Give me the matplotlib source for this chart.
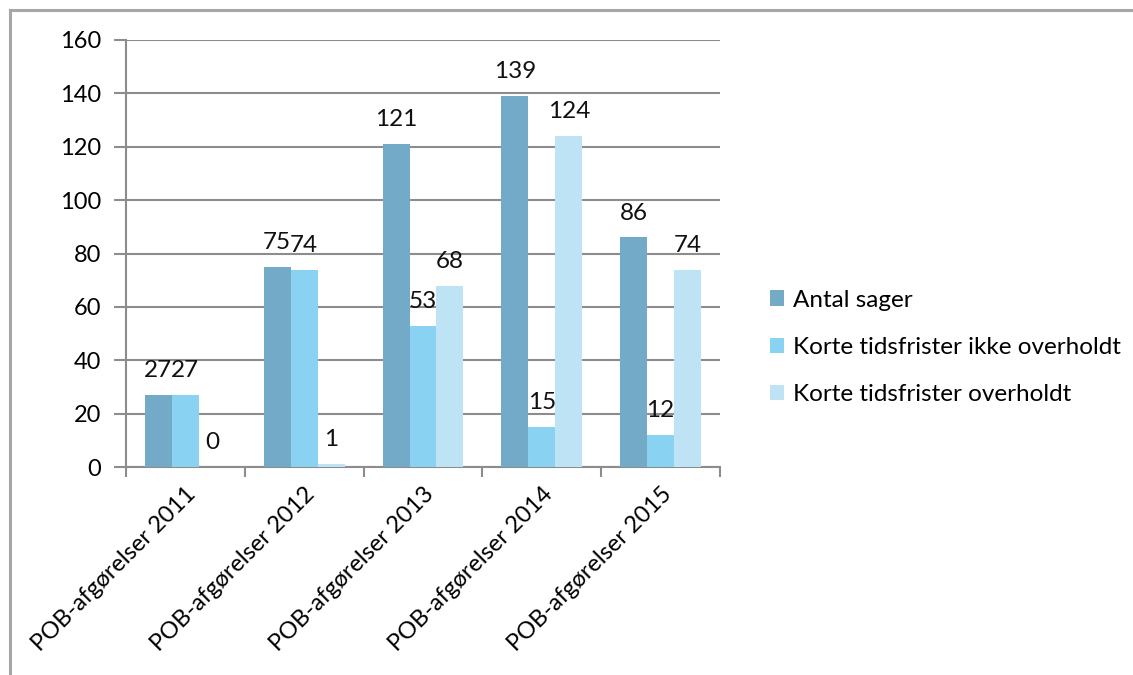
import numpy as np
import matplotlib
matplotlib.use('Agg')
import matplotlib.pyplot as plt
from matplotlib.lines import Line2D

categories = ['POB-afgørelser 2011', 'POB-afgørelser 2012', 'POB-afgørelser 2013',
              'POB-afgørelser 2014', 'POB-afgørelser 2015']
series_names = ['Antal sager', 'Korte tidsfrister ikke overholdt', 'Korte tidsfrister overholdt']
antal_sager = [27, 75, 121, 139, 86]
ikke_overholdt = [27, 74, 53, 15, 12]
overholdt = [0, 1, 68, 124, 74]
colors = ['#72aac7', '#8ad2f1', '#bee3f5']

plt.rcParams['font.family'] = ['Lato', 'DejaVu Sans']

W, H = 1133, 675
fig = plt.figure(figsize=(W / 100, H / 100), dpi=100)
ax = fig.add_axes([126 / W, 1 - 467 / H, (720 - 126) / W, (467 - 40) / H])

x = np.arange(len(categories))
width = 0.227
all_series = [antal_sager, ikke_overholdt, overholdt]
for i, (vals, name, col) in enumerate(zip(all_series, series_names, colors)):
    pos = x + (i - 1) * width
    ax.bar(pos, vals, width, color=col, label=name, zorder=3)
    for p, v in zip(pos, vals):
        ax.annotate(str(v), (p, v), xytext=(0, 10), textcoords='offset points',
                    ha='center', va='bottom', fontsize=17.5, color='#111111')

ax.set_xlim(-0.5, len(categories) - 0.5)
ax.set_ylim(0, 160)
ax.set_yticks(range(0, 161, 20))
ax.yaxis.grid(True, color='#8c8c8c', linewidth=1.5, zorder=0)
ax.set_axisbelow(True)

ax.set_xticks(np.arange(len(categories) + 1) - 0.5)
ax.set_xticklabels([])
ax.set_xticks(x, minor=True)
ax.set_xticklabels(categories, minor=True, rotation=45, ha='right',
                   rotation_mode='anchor', fontsize=17)
ax.tick_params(axis='x', which='major', length=7, width=1.5, color='#8c8c8c')
ax.tick_params(axis='x', which='minor', length=0, pad=12)
ax.tick_params(axis='y', length=9, width=1.5, color='#8c8c8c', labelsize=17, pad=9)

for side in ['top', 'right']:
    ax.spines[side].set_visible(False)
for side in ['left', 'bottom']:
    ax.spines[side].set_color('#8c8c8c')
    ax.spines[side].set_linewidth(1.5)

fig.legend(loc='upper left', bbox_to_anchor=(760 / W, 1 - 280 / H), frameon=False,
           fontsize=17.5, handlelength=0.6, handleheight=0.6, handletextpad=0.35,
           labelspacing=1.08, borderaxespad=0)

# outer chart frame, cut off at right and bottom
fig.add_artist(Line2D([10 / W, 10 / W], [0, 1 - 10 / H], color='#a6a6a6', linewidth=2.2))
fig.add_artist(Line2D([10 / W, 1], [1 - 10 / H, 1 - 10 / H], color='#a6a6a6', linewidth=2.2))

fig.savefig('out.png', dpi=100)
